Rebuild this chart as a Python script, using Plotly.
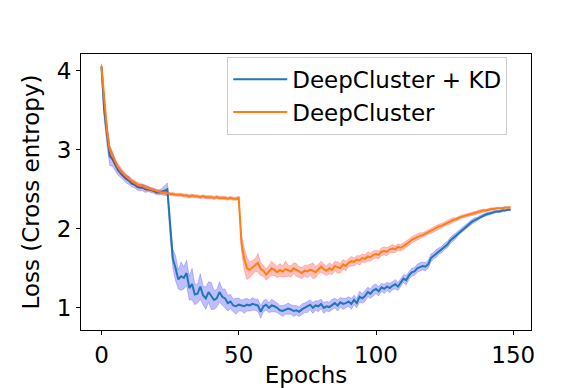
import plotly.graph_objects as go

epochs = list(range(150))

kd_mean = [
    4.05, 3.50, 3.20, 2.92, 2.88, 2.80, 2.74, 2.70, 2.66, 2.63,
    2.61, 2.57, 2.56, 2.53, 2.52, 2.52, 2.50, 2.50, 2.49, 2.48,
    2.46, 2.46, 2.47, 2.48, 2.50, 2.00, 1.62, 1.50, 1.36, 1.40,
    1.38, 1.44, 1.25, 1.30, 1.17, 1.18, 1.27, 1.16, 1.12, 1.20,
    1.15, 1.10, 1.12, 1.20, 1.14, 1.12, 1.06, 1.08, 1.03, 1.02,
    1.04, 1.03, 1.02, 1.04, 1.03, 1.05, 1.04, 1.03, 0.95, 1.02,
    1.04, 1.00, 1.03, 1.02, 1.00, 0.97, 0.96, 0.98, 0.99, 0.98,
    0.96, 0.97, 0.95, 0.98, 1.00, 1.01, 1.04, 1.00, 1.03, 1.02,
    1.05, 1.00, 1.02, 1.01, 1.04, 1.06, 1.03, 1.07, 1.05, 1.06,
    1.08, 1.05, 1.10, 1.06, 1.14, 1.12, 1.15, 1.20, 1.18, 1.22,
    1.24, 1.21, 1.26, 1.24, 1.27, 1.25, 1.28, 1.30, 1.27, 1.32,
    1.37, 1.35, 1.41, 1.45, 1.46, 1.50, 1.52, 1.53, 1.52, 1.55,
    1.63, 1.66, 1.69, 1.72, 1.74, 1.78, 1.80, 1.85, 1.88, 1.91,
    1.95, 1.98, 2.01, 2.04, 2.07, 2.09, 2.11, 2.13, 2.15, 2.17,
    2.18, 2.19, 2.20, 2.21, 2.22, 2.22, 2.23, 2.23, 2.24, 2.24,
]

kd_spread = [
    0.03, 0.12, 0.14, 0.12, 0.09, 0.07, 0.06, 0.05, 0.05, 0.05,
    0.05, 0.04, 0.04, 0.04, 0.04, 0.04, 0.04, 0.03, 0.03, 0.03,
    0.03, 0.03, 0.04, 0.06, 0.08, 0.10, 0.12, 0.16, 0.12, 0.18,
    0.14, 0.16, 0.15, 0.20, 0.13, 0.12, 0.16, 0.12, 0.14, 0.13,
    0.17, 0.12, 0.11, 0.13, 0.10, 0.12, 0.10, 0.09, 0.08, 0.10,
    0.08, 0.07, 0.09, 0.08, 0.07, 0.08, 0.07, 0.08, 0.08, 0.07,
    0.07, 0.06, 0.08, 0.07, 0.06, 0.06, 0.07, 0.06, 0.07, 0.06,
    0.07, 0.06, 0.06, 0.07, 0.06, 0.07, 0.06, 0.07, 0.06, 0.07,
    0.06, 0.07, 0.06, 0.06, 0.07, 0.06, 0.07, 0.06, 0.07, 0.06,
    0.06, 0.07, 0.06, 0.06, 0.07, 0.06, 0.07, 0.06, 0.06, 0.07,
    0.06, 0.06, 0.05, 0.06, 0.05, 0.06, 0.05, 0.06, 0.05, 0.05,
    0.05, 0.06, 0.05, 0.05, 0.05, 0.05, 0.05, 0.05, 0.05, 0.05,
    0.05, 0.04, 0.05, 0.04, 0.04, 0.04, 0.04, 0.04, 0.04, 0.04,
    0.03, 0.03, 0.03, 0.03, 0.03, 0.03, 0.03, 0.02, 0.02, 0.02,
    0.02, 0.02, 0.02, 0.02, 0.015, 0.015, 0.015, 0.01, 0.01, 0.01,
]

dc_mean = [
    4.06, 3.60, 3.25, 3.00, 2.92, 2.84, 2.78, 2.73, 2.69, 2.66,
    2.63, 2.60, 2.58, 2.56, 2.55, 2.54, 2.52, 2.51, 2.50, 2.49,
    2.48, 2.47, 2.46, 2.46, 2.45, 2.44, 2.44, 2.43, 2.43, 2.43,
    2.42, 2.42, 2.41, 2.42, 2.41, 2.41, 2.40, 2.41, 2.40, 2.40,
    2.40, 2.39, 2.40, 2.39, 2.39, 2.39, 2.38, 2.39, 2.38, 2.38,
    2.39, 1.82, 1.62, 1.50, 1.48, 1.51, 1.54, 1.57, 1.49, 1.47,
    1.42, 1.46, 1.50, 1.48, 1.45, 1.48, 1.46, 1.49, 1.47, 1.46,
    1.50, 1.48, 1.45, 1.44, 1.47, 1.46, 1.48, 1.47, 1.45, 1.49,
    1.52, 1.49, 1.47, 1.50, 1.48, 1.53, 1.51, 1.50, 1.55, 1.53,
    1.57, 1.59, 1.58, 1.61, 1.60, 1.63, 1.62, 1.65, 1.64, 1.67,
    1.68, 1.67, 1.71, 1.72, 1.71, 1.74, 1.75, 1.74, 1.77, 1.76,
    1.78, 1.80, 1.83, 1.86, 1.88, 1.89, 1.91, 1.92, 1.94, 1.96,
    1.97, 1.99, 2.01, 2.03, 2.04, 2.06, 2.08, 2.09, 2.11, 2.12,
    2.14, 2.15, 2.16, 2.17, 2.18, 2.19, 2.20, 2.21, 2.22, 2.23,
    2.23, 2.24, 2.25, 2.25, 2.26, 2.26, 2.26, 2.27, 2.27, 2.27,
]

dc_spread = [
    0.03, 0.08, 0.07, 0.06, 0.05, 0.04, 0.04, 0.04, 0.04, 0.03,
    0.03, 0.03, 0.03, 0.03, 0.03, 0.03, 0.03, 0.03, 0.02, 0.02,
    0.02, 0.02, 0.02, 0.02, 0.02, 0.02, 0.02, 0.02, 0.02, 0.02,
    0.02, 0.02, 0.02, 0.02, 0.02, 0.02, 0.02, 0.02, 0.02, 0.02,
    0.02, 0.02, 0.02, 0.02, 0.02, 0.02, 0.02, 0.02, 0.02, 0.02,
    0.02, 0.10, 0.14, 0.14, 0.10, 0.09, 0.08, 0.12, 0.08, 0.07,
    0.07, 0.08, 0.09, 0.07, 0.07, 0.08, 0.07, 0.10, 0.07, 0.07,
    0.07, 0.08, 0.07, 0.07, 0.07, 0.08, 0.07, 0.10, 0.07, 0.06,
    0.07, 0.06, 0.06, 0.07, 0.06, 0.06, 0.07, 0.06, 0.06, 0.06,
    0.05, 0.06, 0.05, 0.05, 0.06, 0.05, 0.05, 0.06, 0.05, 0.05,
    0.05, 0.05, 0.05, 0.05, 0.05, 0.04, 0.05, 0.04, 0.04, 0.04,
    0.04, 0.04, 0.04, 0.04, 0.04, 0.04, 0.04, 0.03, 0.03, 0.03,
    0.03, 0.03, 0.03, 0.03, 0.03, 0.03, 0.03, 0.03, 0.03, 0.02,
    0.02, 0.02, 0.02, 0.02, 0.02, 0.02, 0.02, 0.02, 0.02, 0.02,
    0.015, 0.015, 0.015, 0.015, 0.01, 0.01, 0.01, 0.01, 0.01, 0.01,
]

series = [
    ("DeepCluster + KD", kd_mean, kd_spread, "#1f77b4", "rgba(0,0,255,0.25)"),
    ("DeepCluster", dc_mean, dc_spread, "#ff7f0e", "rgba(255,0,0,0.25)"),
]

fig = go.Figure()
for name, mean, spread, color, band in series:
    lower = [m - s for m, s in zip(mean, spread)]
    upper = [m + s for m, s in zip(mean, spread)]
    fig.add_trace(go.Scatter(x=epochs, y=lower, mode="lines",
                             line=dict(color=band, width=0.8),
                             showlegend=False, hoverinfo="skip"))
    fig.add_trace(go.Scatter(x=epochs, y=upper, mode="lines", fill="tonexty",
                             fillcolor=band, line=dict(color=band, width=0.8),
                             showlegend=False, hoverinfo="skip"))
    # own legend group per line so tracegroupgap spaces the rows
    fig.add_trace(go.Scatter(x=epochs, y=mean, mode="lines", name=name,
                             legendgroup=name,
                             line=dict(color=color, width=2)))

axis_style = dict(
    showline=True, linecolor="black", linewidth=1, mirror=True,
    ticks="outside", ticklen=4, tickcolor="black",
    showgrid=False, zeroline=False,
    tickfont=dict(size=23, color="black"),
)

fig.update_layout(
    width=581, height=388,
    margin=dict(l=73, r=58, t=46, b=59),
    paper_bgcolor="white", plot_bgcolor="white",
    font=dict(family="DejaVu Sans", size=23, color="black"),
    xaxis=dict(axis_style, range=[-7.45, 156.45], tickvals=[0, 50, 100, 150],
               title=dict(text="Epochs", standoff=0, font=dict(size=23))),
    yaxis=dict(axis_style, range=[0.72, 4.21], tickvals=[1, 2, 3, 4],
               title=dict(text="Loss (Cross entropy)", standoff=10, font=dict(size=23))),
    legend=dict(x=0.325, y=0.99, xanchor="left", yanchor="top",
                traceorder="normal", tracegroupgap=4, itemwidth=54,
                bgcolor="rgba(255,255,255,0.8)", bordercolor="#cccccc", borderwidth=1,
                font=dict(size=23)),
)

fig.write_html("out.html")
